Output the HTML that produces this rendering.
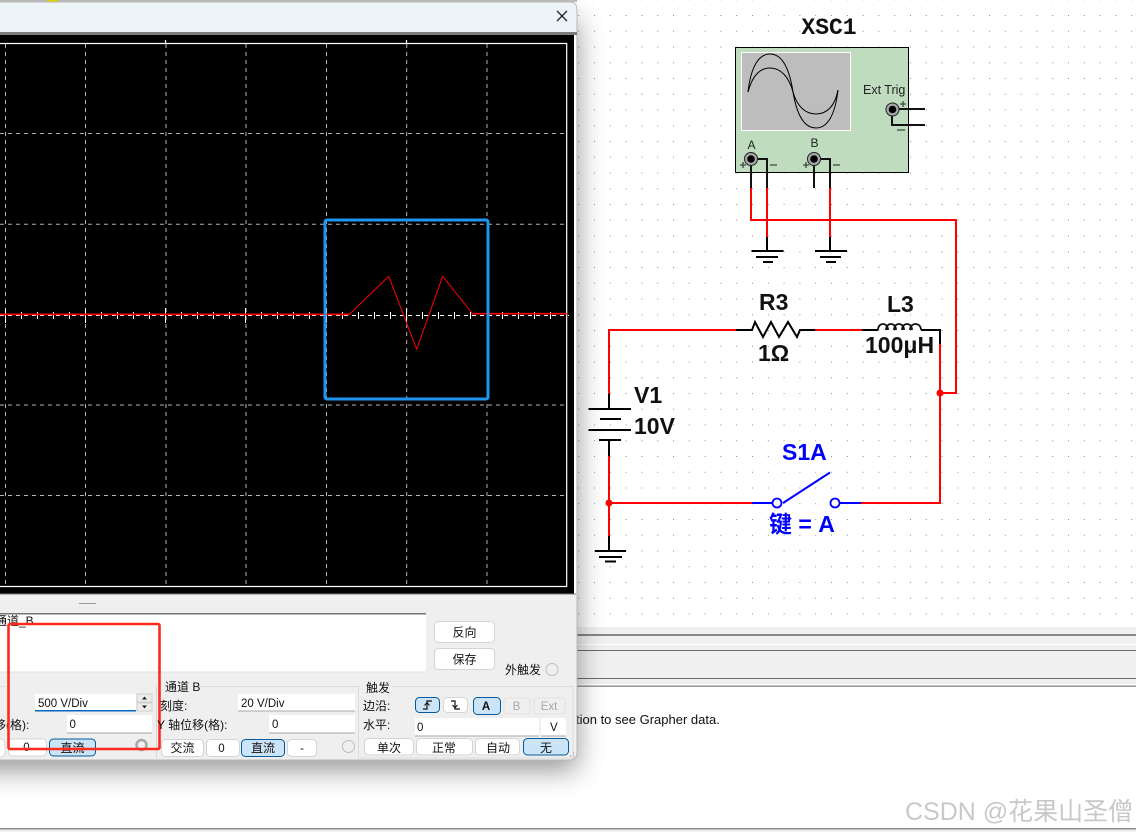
<!DOCTYPE html>
<html lang="zh"><head><meta charset="utf-8"><title>XSC1</title>
<style>
html,body{margin:0;padding:0;background:#fff}
svg{display:block}
text{font-family:"Liberation Sans","Noto Sans CJK SC",sans-serif}
.ui{font-size:12px;fill:#111}
.b{font-weight:bold;font-size:23px;fill:#111}
.bl{font-weight:bold;font-size:23px;fill:#0000ff}
.btn{fill:#fff;stroke:#d4d4d4;stroke-width:1}
.on{fill:#cce4f7;stroke:#005a9e;stroke-width:1}
.dis{fill:#efefef;stroke:#e0e0e0;stroke-width:1}
.m{text-anchor:middle}
.r{stroke:#f00;stroke-width:2;fill:none}
.k{stroke:#000;stroke-width:2;fill:none}
.k3{stroke:#111;stroke-width:2;fill:none}
.u{stroke:#00f;stroke-width:2;fill:none}
.gd{stroke:#b4b4b4;stroke-width:1;stroke-dasharray:4 4;fill:none}
.w{stroke:#fff;stroke-width:1.2;fill:none}
</style></head><body>
<svg width="1136" height="832" viewBox="0 0 1136 832" xmlns="http://www.w3.org/2000/svg">
<defs>
<pattern id="dots" patternUnits="userSpaceOnUse" x="594" y="15" width="15.8" height="15.75"><rect width="1" height="1" fill="#8c8c8c"/></pattern>
<filter id="sh" x="-20%" y="-20%" width="140%" height="140%"><feGaussianBlur stdDeviation="14"/></filter>
</defs>

<!-- canvas -->
<rect width="1136" height="832" fill="#fff"/>
<rect x="577" y="0" width="559" height="627" fill="url(#dots)"/>
<rect x="0" y="627" width="1136" height="59" fill="#f0f0f0"/>
<rect x="0" y="634" width="1136" height="2" fill="#868686"/>
<rect x="0" y="644" width="1136" height="1" fill="#fff"/>
<rect x="0" y="650" width="1136" height="1" fill="#6a6a6a"/>
<rect x="0" y="678" width="1136" height="1" fill="#6a6a6a"/>
<rect x="0" y="684" width="1136" height="1" fill="#fff"/>
<rect x="0" y="685.5" width="1136" height="1.5" fill="#9a9aa2"/>
<rect x="0" y="828" width="1136" height="1.5" fill="#8a8a92"/>
<rect x="0" y="829.5" width="1136" height="3" fill="#f0f0f0"/>
<text x="576" y="724" style="font-size:13px" fill="#111">tion to see Grapher data.</text>
<text x="905" y="820" style="font-size:25px" fill="#c8c8c8">CSDN @花果山圣僧</text>

<!-- oscilloscope symbol -->
<text x="829" y="34" class="m" style="font-family:'Liberation Mono',monospace;font-weight:bold;font-size:23px" fill="#111">XSC1</text>
<rect x="735.5" y="47.5" width="173" height="125" fill="#bfdcbf" stroke="#000" stroke-width="1"/>
<rect x="741.5" y="52.5" width="109" height="78" fill="#bdbdbd" stroke="#fff" stroke-width="1"/>
<path d="M748 92C751 66 759 54 770 54C781 54 789 66 793 92C797 116 805 128 816 128C827 128 835 116 838 90" fill="none" stroke="#000" stroke-width="1"/>
<path d="M748 92C752 77 759 68 770 68C781 68 789 77 793 92C797 106 805 114 816 114C827 114 835 106 838 90" fill="none" stroke="#000" stroke-width="1"/>
<text x="863" y="94" style="font-size:12.5px" fill="#222">Ext Trig</text>
<text x="751.5" y="149" class="m" style="font-size:12px" fill="#222">A</text>
<text x="814.5" y="147" class="m" style="font-size:12px" fill="#222">B</text>
<path d="M892 109H925M892 109V125H925" class="k3"/>
<path d="M751 159V188M751 159H767V188M814 159V188M814 159H830V188" class="k3"/>
<circle cx="751" cy="159" r="6.5" fill="#a8a8a8" stroke="#222"/><circle cx="751" cy="159" r="3.8" fill="#000"/>
<circle cx="814" cy="159" r="6.5" fill="#a8a8a8" stroke="#222"/><circle cx="814" cy="159" r="3.8" fill="#000"/>
<circle cx="892.5" cy="109.5" r="6.5" fill="#a8a8a8" stroke="#222"/><circle cx="892.5" cy="109.5" r="3.8" fill="#000"/>
<g stroke="#444" stroke-width="1.3" fill="none">
<path d="M740 165H746M743 162V168M770 165H777M803 165H809M806 162V168M833 165H840M900 104H906M903 101V107M897 130H905"/>
</g>

<!-- scope wiring -->
<path d="M751 188V220H956V393H940M767 188V237M830 188V237" class="r"/>
<path d="M767 237V251M830 237V251" class="k"/>
<path d="M751.5 251H783.5M756 257H778M763 262H773M815 251H847M820 257H841M826 262H836" class="k"/>

<!-- main circuit -->
<path d="M736 330H609V394M815 330H862M940 344V503H861M752 503H609M609 456V536" class="r"/>
<path d="M736 330H752L755 322 763 337 771 322 779 337 788 322 797 337 800 330H815M862 330H878M921 330H940V344" class="k"/>
<path d="M878 330C878 322 888 322 888 330M886 330C886 322 896 322 896 330M894 330C894 322 904 322 904 330M902 330C902 322 912 322 912 330M910 330C910 322 921 322 921 330" fill="none" stroke="#111" stroke-width="1.8"/>
<path d="M609 394V409M588.5 409H631M600 419H621M588.5 430H631M599 440H621M609 440V456M609 536V551M595 551H626M599 557H622M605 561.500H616" class="k"/>
<circle cx="609" cy="503" r="3.500" fill="#f00"/><circle cx="940" cy="393" r="3.500" fill="#f00"/>
<path d="M752 503H772M783 503L830 472.500M839 503H861" class="u"/>
<circle cx="777" cy="503" r="4.500" fill="#fff" stroke="#00f" stroke-width="1.800"/>
<circle cx="835" cy="503" r="4.500" fill="#fff" stroke="#00f" stroke-width="1.800"/>
<text x="759" y="310" class="b">R3</text>
<text x="758" y="361" class="b">1Ω</text>
<text x="887" y="312" class="b">L3</text>
<text x="865" y="353" class="b">100μH</text>
<text x="634" y="403" class="b">V1</text>
<text x="634" y="434" class="b">10V</text>
<text x="782" y="460" class="bl">S1A</text>
<text x="769" y="532" class="bl">键 = A</text>

<!-- toolbar strip at very top -->
<rect x="0" y="0" width="577" height="2" fill="#bdbdbd"/>
<rect x="47" y="0" width="11" height="2" fill="#e6d800"/>

<!-- window shadow -->
<rect x="-30" y="20" width="607" height="750" fill="#000" opacity=".42" filter="url(#sh)"/>

<!-- window -->
<path d="M-2 2H569Q577 2 577 10V752Q577 760 569 760H-2Z" fill="#efefef" stroke="#b8b8b8" stroke-width="1"/>
<path d="M0 2.500H569Q576.500 2.500 576.500 10V32H0Z" fill="#edf4f8"/>
<path d="M557 11L567 21M567 11L557 21" stroke="#222" stroke-width="1.300" fill="none"/>
<rect x="0" y="32" width="577" height="3" fill="#7c7c7c"/>
<rect x="0" y="35" width="574" height="559" fill="#000"/>
<rect x="574" y="35" width="2" height="559" fill="#fff"/>
<rect x="0" y="593.500" width="576" height="1" fill="#777"/>

<!-- scope screen -->
<g class="gd">
<path d="M5.500 44V586M85.500 44V586M166 44V586M246 44V586M326.500 44V586M406.700 44V586M487 44V586"/>
<path d="M0 133.500H566M0 224.300H566M0 405H566M0 495.500H566"/>
</g>
<path d="M0 43.500H566.700V586.500H0" class="w"/>
<path d="M165.500 40V43M406.500 40V43" class="w"/>
<path d="M0 315.500H569" stroke="#fff" stroke-width="1" stroke-dasharray="4 4"/>
<path d="M5.500 308V323M21.500 312V319M37.500 312V319M53.500 312V319M69.500 312V319M85.500 308V323M101.500 312V319M117.500 312V319M133.500 312V319M149.500 312V319M165.500 308V323M181.500 312V319M197.500 312V319M213.500 312V319M229.500 312V319M245.500 308V323M261.500 312V319M277.500 312V319M293.500 312V319M309.500 312V319M326.500 308V323M342.500 312V319M358.500 312V319M374.500 312V319M390.500 312V319M406.500 308V323M422.500 312V319M438.500 312V319M454.500 312V319M470.500 312V319M487.500 308V323M502.500 312V319M518.500 312V319M534.500 312V319M550.500 312V319" stroke="#fff" stroke-width="1"/>
<path d="M0 314.400H349.300M472.300 313.700H566.700" fill="none" stroke="#f00" stroke-width="1.700"/>
<path d="M349.300 314.400L388.700 276.300 416.700 349.300 442.700 276.300 472.300 313.500" fill="none" stroke="#f00" stroke-width="1"/>
<rect x="325" y="220" width="163" height="179" rx="2" fill="none" stroke="#1e96f0" stroke-width="3"/>

<!-- lower panel -->
<rect x="79" y="603" width="17" height="1" fill="#9a9a9a"/>
<rect x="0" y="614" width="426" height="58" fill="#fff"/>
<rect x="0" y="613" width="426" height="1.500" fill="#777"/>
<rect x="0" y="671.500" width="426" height="1" fill="#e2e2e2"/>
<text x="-5" y="625" class="ui">通道_B</text>

<rect x="434.500" y="621.500" width="60" height="21" rx="4" class="btn"/><text x="464.500" y="636.500" class="ui m">反向</text>
<rect x="434.500" y="648.500" width="60" height="21" rx="4" class="btn"/><text x="464.500" y="663.500" class="ui m">保存</text>
<text x="505" y="674" class="ui">外触发</text>
<circle cx="552" cy="669.500" r="6" fill="#efefef" stroke="#bdbdbd"/>

<!-- group frames -->
<path d="M0 686.500H5M158 686.500H160M200 686.500H360M392 686.500H573V758H358.500V686.500" fill="none" stroke="#dcdcdc"/>
<path d="M156.500 686.500V758" stroke="#d8d8d8"/>

<!-- channel A -->
<rect x="35" y="694" width="101" height="17" fill="#fff"/><rect x="35" y="710" width="101" height="1.500" fill="#0067c0"/>
<text x="38" y="707" class="ui" style="font-size:11.500px">500  V/Div</text>
<rect x="137" y="694" width="15" height="8" fill="#ececec" stroke="#cfcfcf"/><rect x="137" y="703" width="15" height="8" fill="#ececec" stroke="#cfcfcf"/>
<path d="M142 699.500L144.500 696.500 147 699.500ZM142 705.500L144.500 708.500 147 705.500Z" fill="#222"/>
<text x="-6" y="729" class="ui">移(格):</text>
<rect x="67" y="715" width="85" height="18" fill="#fff"/><rect x="67" y="732.500" width="85" height="1" fill="#aaa"/>
<text x="69.500" y="728" class="ui" style="font-size:11.500px">0</text>
<rect x="-10" y="739" width="15" height="18" rx="4" class="btn"/>
<rect x="8.500" y="739" width="38" height="17" rx="4" class="btn"/><text x="26.500" y="751" class="ui m" style="font-size:11.500px">0</text>
<rect x="49.500" y="739" width="46" height="17" rx="4" class="on"/><text x="72.500" y="752" class="ui m">直流</text>
<circle cx="141.500" cy="745" r="5" fill="#efefef" stroke="#a8a8a8" stroke-width="2.500"/>

<!-- red annotation -->
<rect x="8.500" y="624" width="151" height="125" rx="1.500" fill="none" stroke="#ff2a1f" stroke-width="2.600"/>

<!-- channel B -->
<text x="165" y="691" class="ui">通道 B</text>
<text x="160" y="710" class="ui">刻度:</text>
<rect x="238" y="694" width="117" height="17" fill="#fff"/><rect x="238" y="710.500" width="117" height="1" fill="#aaa"/>
<text x="241" y="707" class="ui" style="font-size:11.500px">20  V/Div</text>
<text x="157" y="729" class="ui">Y 轴位移(格):</text>
<rect x="269" y="715" width="86" height="18" fill="#fff"/><rect x="269" y="732.500" width="86" height="1" fill="#aaa"/>
<text x="272" y="728" class="ui" style="font-size:11.500px">0</text>
<rect x="161.500" y="739.500" width="42" height="17" rx="4" class="btn"/><text x="182.500" y="752" class="ui m">交流</text>
<rect x="206.500" y="739.500" width="33" height="17" rx="4" class="btn"/><text x="221.500" y="752" class="ui m" style="font-size:11.500px">0</text>
<rect x="241.500" y="739.500" width="43" height="17" rx="4" class="on"/><text x="263" y="752" class="ui m">直流</text>
<rect x="287.500" y="739.500" width="29" height="17" rx="4" class="btn"/><text x="302" y="752" class="ui m">-</text>
<circle cx="348.500" cy="746.500" r="6" fill="#efefef" stroke="#bdbdbd"/>

<!-- trigger -->
<text x="366" y="692" class="ui">触发</text>
<text x="363" y="710" class="ui">边沿:</text>
<text x="363" y="729" class="ui">水平:</text>
<rect x="415.500" y="697.500" width="24" height="15" rx="4" class="on"/>
<path d="M423 709H427V701H432" fill="none" stroke="#111" stroke-width="1.200"/><path d="M424.500 705.500L427 702.500 429.500 705.500" fill="none" stroke="#111"/>
<rect x="443.500" y="697.500" width="24" height="15" rx="4" class="btn"/>
<path d="M451 701H455V709H460" fill="none" stroke="#111" stroke-width="1.200"/><path d="M452.500 705L455 708 457.500 705" fill="none" stroke="#111"/>
<rect x="473.500" y="697.500" width="27" height="17" rx="4" class="on"/><text x="486" y="710" class="ui m" style="font-size:11.500px;font-weight:bold">A</text>
<rect x="504" y="698" width="26" height="16" rx="3" class="dis"/><text x="516.500" y="710" class="m" style="font-size:11.500px" fill="#a8a8a8">B</text>
<rect x="534" y="698" width="31" height="16" rx="3" class="dis"/><text x="549" y="710" class="m" style="font-size:11.500px" fill="#a8a8a8">Ext</text>
<rect x="415" y="718" width="124" height="18" fill="#fff"/><rect x="415" y="735.500" width="124" height="1" fill="#aaa"/>
<text x="417" y="731" class="ui" style="font-size:11.500px">0</text>
<rect x="541" y="718" width="25" height="18" fill="#fff"/><rect x="541" y="735.500" width="25" height="1" fill="#aaa"/>
<text x="550" y="731" class="ui" style="font-size:11.500px">V</text>
<rect x="364.500" y="738.500" width="49" height="16.500" rx="4" class="btn"/><text x="389" y="752" class="ui m">单次</text>
<rect x="416.500" y="738.500" width="56" height="16.500" rx="4" class="btn"/><text x="444" y="752" class="ui m">正常</text>
<rect x="475.500" y="738.500" width="44" height="16.500" rx="4" class="btn"/><text x="498" y="752" class="ui m">自动</text>
<rect x="523.500" y="738.500" width="45" height="16.500" rx="4" class="on"/><text x="546" y="752" class="ui m">无</text>
<path d="M573 753h1M570 756h1M573 756h1" stroke="#aaa" stroke-width="1.500"/>
</svg>
</body></html>
